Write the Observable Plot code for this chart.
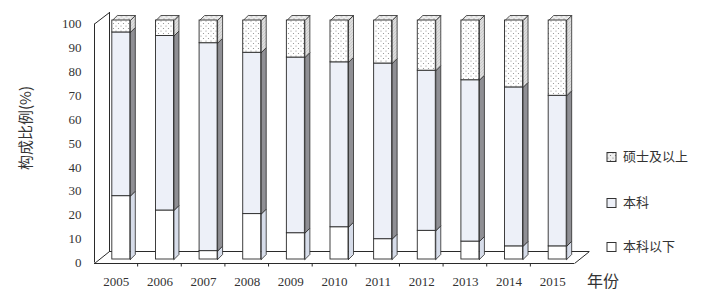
<!DOCTYPE html>
<html><head><meta charset="utf-8">
<script src="https://cdn.jsdelivr.net/npm/d3@7"></script>
<script src="https://cdn.jsdelivr.net/npm/@observablehq/plot@0.6"></script>
<style>body{margin:0;background:#fff} #chart{width:716px;height:295px}</style>
</head><body><div id="chart"></div>
<script>
// ---- data ----
const years = [2005, 2006, 2007, 2008, 2009, 2010, 2011, 2012, 2013, 2014, 2015];
const below = [26.5, 20.5, 3.5, 19, 11, 13.5, 8.5, 12, 7.5, 5.5, 5.5];        // 本科以下
const bachelor = [68.5, 73, 87, 67.5, 73.5, 69, 73.5, 67, 67.5, 66.5, 63];    // 本科
const master = [5, 6.5, 9.5, 13.5, 15.5, 17.5, 18, 21, 25, 28, 31.5];          // 硕士及以上
const categories = ["本科以下", "本科", "硕士及以上"];
const yTicks = [0, 10, 20, 30, 40, 50, 60, 70, 80, 90, 100];
const yTitle = "构成比例(%)";
const xTitle = "年份";

// ---- layout ----
const W = 716, H = 295, mL = 99, mR = 137, mT = 20, mB = 36;
const xDom = [years[0] - 0.5, years[years.length - 1] + 0.5];
const pxX = (W - mL - mR) / (xDom[1] - xDom[0]);
const pxY = (H - mT - mB) / 100;
const hw = 9 / pxX;            // half bar width (data units)
const dX = 5 / pxX, dY = 5 / pxY;  // bar depth

const frontFill = ["#ffffff", "#edf0f8", "url(#dots)"];
const sideFill = ["#d6dce9", "#8f8f94", "url(#hatch)"];

const series = [below, bachelor, master];
const segs = [];
years.forEach((yr, i) => {
  let acc = 0;
  series.forEach((s, k) => {
    segs.push({year: yr, k, y1: acc, y2: acc + s[i]});
    acc += s[i];
  });
});
const sidePts = [];
segs.forEach((d, j) => {
  const xa = d.year + hw, xb = d.year + hw + dX;
  [[xa, d.y1], [xb, d.y1 + dY], [xb, d.y2 + dY], [xa, d.y2], [xa, d.y1]]
    .forEach(([x, y]) => sidePts.push({id: j, k: d.k, x, y}));
});
const topPts = [];
segs.filter(d => d.k === 2).forEach((d, j) => {
  [[d.year - hw, d.y2], [d.year + hw, d.y2], [d.year + hw + dX, d.y2 + dY], [d.year - hw + dX, d.y2 + dY], [d.year - hw, d.y2]]
    .forEach(([x, y]) => topPts.push({id: j, x, y}));
});

const ink = "#2a2a2a";
const marks = [];
// floor and wall
const fx0 = xDom[0], fx1 = xDom[1];
marks.push(
  Plot.ruleY([0], {x1: fx0, x2: fx1, dx: 10, dy: -8, stroke: ink, strokeWidth: 1}),
  Plot.ruleX([fx0], {y1: 0, y2: 100, dx: 10, dy: -8, stroke: ink, strokeWidth: 1}),
  Plot.ruleX([fx0], {y1: 0, y2: 100, dx: -5, dy: 3.5, stroke: ink, strokeWidth: 1}),
  Plot.link([0], {x1: fx0 - 5 / pxX, y1: 100 - 3.5 / pxY, x2: fx0 + 10 / pxX, y2: 100 + 8 / pxY, stroke: ink}),
  Plot.link([0], {x1: fx0 - 5 / pxX, y1: -4 / pxY, x2: fx0 + 10 / pxX, y2: 8 / pxY, stroke: ink}),
  Plot.link([0], {x1: fx1 - 5 / pxX, y1: -4 / pxY, x2: fx1 + 10 / pxX, y2: 8 / pxY, stroke: ink}),
  Plot.ruleY([0], {x1: fx0, x2: fx1, dx: -5, dy: 4, stroke: ink, strokeWidth: 1.2}),
  Plot.ruleX(years.slice(0, -1).map(y => y + 0.5), {y1: 0, y2: -3.5 / pxY, dx: -5.5, dy: 4, stroke: ink})
);
// bars
for (let k = 0; k < 3; k++) {
  marks.push(Plot.line(sidePts.filter(d => d.k === k), {x: "x", y: "y", z: "id", fill: sideFill[k], stroke: ink, strokeWidth: 0.8}));
}
marks.push(Plot.line(topPts, {x: "x", y: "y", z: "id", fill: "url(#dotsTop)", stroke: ink, strokeWidth: 0.8}));
for (let k = 0; k < 3; k++) {
  marks.push(Plot.rect(segs.filter(d => d.k === k), {x1: d => d.year - hw, x2: d => d.year + hw, y1: "y1", y2: "y2", fill: frontFill[k], stroke: ink, strokeWidth: 0.9}));
}
marks.push(
  Plot.axisY({ticks: yTicks, tickSize: 0, tickPadding: 18, dy: 3.5, label: null, fontSize: 13}),
  Plot.axisX({ticks: years, tickFormat: d => String(d), tickSize: 0, tickPadding: 17, dx: -5, label: null, fontSize: 13})
);

const svgEl = Plot.plot({
  width: W, height: H,
  marginLeft: mL, marginRight: mR, marginTop: mT, marginBottom: mB,
  x: {type: "linear", domain: xDom},
  y: {domain: [0, 100]},
  style: {fontFamily: "'Liberation Serif', serif", fontSize: "13px", color: "#333", background: "#fff"},
  marks
});
document.getElementById("chart").append(svgEl);

// patterns, titles, legend
const svg = d3.select(svgEl);
const defs = svg.insert("defs", ":first-child");
function dots(id, bg, col) {
  const p = defs.append("pattern").attr("id", id).attr("width", 5).attr("height", 5).attr("patternUnits", "userSpaceOnUse");
  p.append("rect").attr("width", 5).attr("height", 5).attr("fill", bg);
  p.append("circle").attr("cx", 1).attr("cy", 1).attr("r", 0.6).attr("fill", col);
  p.append("circle").attr("cx", 3.5).attr("cy", 3.5).attr("r", 0.6).attr("fill", col);
}
dots("dots", "#ffffff", "#8a8a8a");
dots("dotsTop", "#efefef", "#777");
const h = defs.append("pattern").attr("id", "hatch").attr("width", 3).attr("height", 3).attr("patternUnits", "userSpaceOnUse");
h.append("rect").attr("width", 3).attr("height", 3).attr("fill", "#eeeeee");
h.append("path").attr("d", "M-1,4 L4,-1").attr("stroke", "#8a8a8a").attr("stroke-width", 0.7);

const cjk = "'Noto Sans CJK SC', sans-serif";
svg.append("text").attr("transform", "translate(27,128) rotate(-90)").attr("text-anchor", "middle")
  .attr("dominant-baseline", "middle").attr("font-family", cjk).attr("font-size", 15).attr("fill", "#333").text(yTitle);
svg.append("text").attr("x", 587).attr("y", 283).attr("text-anchor", "start").attr("dominant-baseline", "middle")
  .attr("font-family", cjk).attr("font-size", 16).attr("fill", "#333").text(xTitle);

const legendY = [247, 203, 157];
const legendFill = ["#ffffff", "#edf0f8", "url(#dotsTop)"];
categories.forEach((c, k) => {
  const g = svg.append("g").attr("transform", `translate(607,${legendY[k]})`);
  g.append("rect").attr("x", 0).attr("y", -4.5).attr("width", 9).attr("height", 9)
    .attr("fill", legendFill[k]).attr("stroke", "#333").attr("stroke-width", 1);
  g.append("text").attr("x", 16).attr("y", 0).attr("text-anchor", "start").attr("dominant-baseline", "middle")
    .attr("font-family", cjk).attr("font-size", 13).attr("fill", "#333").text(c);
});
</script>
</body></html>
